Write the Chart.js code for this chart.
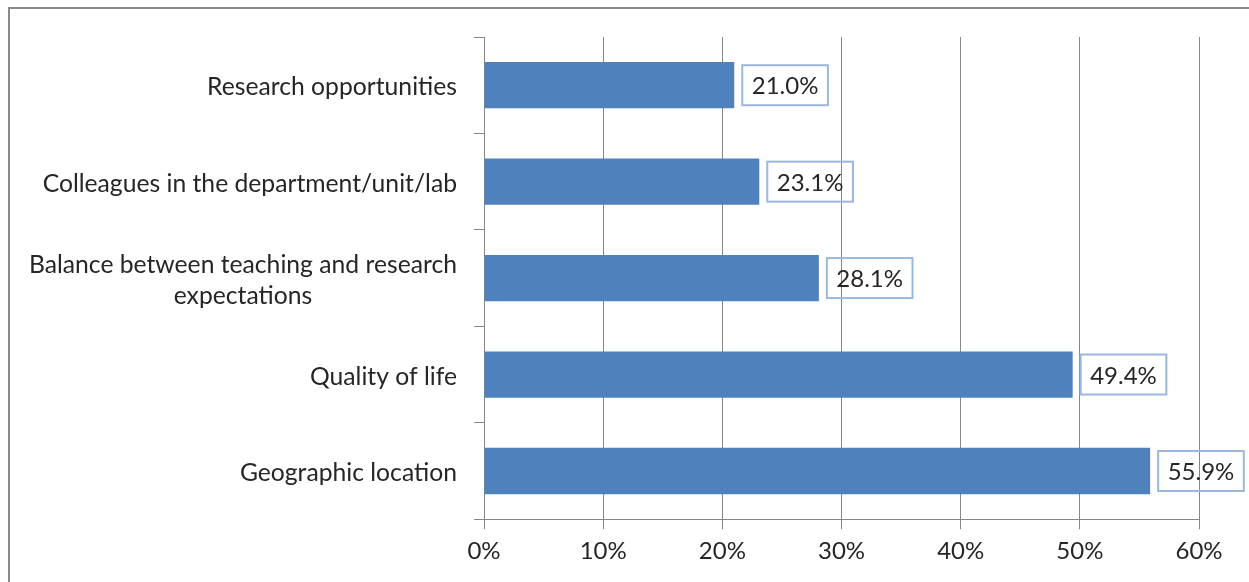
<!DOCTYPE html>
<html>
<head>
<meta charset="utf-8">
<script src="https://cdn.jsdelivr.net/npm/chart.js@4.4.1/dist/chart.umd.min.js"></script>
<style>
  html, body { margin: 0; padding: 0; background: #fff; }
  #wrap { position: relative; width: 1249px; height: 582px; overflow: hidden; }
  #frame { position: absolute; left: 8px; top: 7px; width: 1300px; height: 700px;
           border-top: 2px solid #8a8a8a; border-left: 2px solid #8a8a8a; box-sizing: border-box; }
  canvas { position: absolute; left: 0; top: 0; }
</style>
</head>
<body>
<div id="wrap">
  <div id="frame"></div>
  <canvas id="c" width="1249" height="582"></canvas>
</div>
<script>
const categories = [
  ["Research opportunities"],
  ["Colleagues in the department/unit/lab"],
  ["Balance between teaching and research", "expectations"],
  ["Quality of life"],
  ["Geographic location"]
];
const values = [21.0, 23.1, 28.1, 49.4, 55.9];
const xTicks = [0, 10, 20, 30, 40, 50, 60];

const FONT = 'Lato, "Open Sans", sans-serif';
const GRID = '#868686';
const TEXT = '#262626';

const catLabelPlugin = {
  id: 'catLabels',
  afterDraw(chart) {
    const ctx = chart.ctx;
    const y = chart.scales.y;
    const rightEdge = y.left - 17;
    ctx.save();
    ctx.font = '24.7px ' + FONT;
    ctx.fillStyle = TEXT;
    ctx.textBaseline = 'middle';
    ctx.textAlign = 'center';
    const lh = 31;
    categories.forEach((lines, i) => {
      const cy = y.getPixelForValue(i) + 2;
      const w = Math.max(...lines.map(l => ctx.measureText(l).width));
      const cx = rightEdge - w / 2;
      const top = cy - (lines.length - 1) * lh / 2;
      lines.forEach((l, k) => ctx.fillText(l, cx, top + k * lh));
    });
    ctx.restore();
  }
};

const valueLabelPlugin = {
  id: 'valueLabels',
  afterDatasetsDraw(chart) {
    const ctx = chart.ctx;
    const meta = chart.getDatasetMeta(0);
    ctx.save();
    ctx.font = '24px ' + FONT;
    ctx.textBaseline = 'middle';
    ctx.textAlign = 'left';
    meta.data.forEach((bar, i) => {
      const txt = values[i].toFixed(1) + '%';
      const tw = ctx.measureText(txt).width;
      const bx = bar.x + 8, bw = tw + 19, bh = 40;
      const by = bar.y - bh / 2;
      ctx.lineWidth = 2;
      ctx.strokeStyle = '#9bb7dc';
      ctx.strokeRect(bx, by, bw, bh);
      ctx.fillStyle = TEXT;
      ctx.fillText(txt, bx + 9.5, bar.y + 1.5);
    });
    ctx.restore();
  }
};

new Chart(document.getElementById('c'), {
  type: 'bar',
  data: {
    labels: categories,
    datasets: [{
      data: values,
      backgroundColor: '#4f81bd',
      borderWidth: 0,
      barPercentage: 0.48,
      categoryPercentage: 1.0
    }]
  },
  options: {
    indexAxis: 'y',
    responsive: false,
    animation: false,
    devicePixelRatio: 1,
    layout: { padding: { left: 474, right: 50, top: 37, bottom: 8 } },
    plugins: { legend: { display: false }, tooltip: { enabled: false } },
    scales: {
      x: {
        min: 0, max: 60,
        afterBuildTicks(scale) { scale.ticks = xTicks.map(v => ({ value: v })); },
        ticks: {
          callback: v => v + '%',
          font: { family: FONT, size: 24 },
          color: TEXT,
          padding: 8,
          maxRotation: 0
        },
        grid: { color: GRID, lineWidth: 1, tickLength: 10, drawTicks: true },
        border: { color: GRID, width: 1 }
      },
      y: {
        ticks: { display: false },
        grid: { offset: true, drawOnChartArea: false, color: GRID, tickLength: 10 },
        border: { color: GRID, width: 1 }
      }
    }
  },
  plugins: [valueLabelPlugin, catLabelPlugin]
});
</script>
</body>
</html>
